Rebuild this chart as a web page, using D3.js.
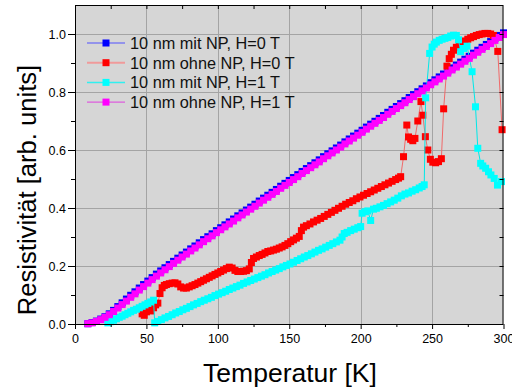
<!DOCTYPE html>
<html>
<head>
<meta charset="utf-8">
<script src="https://cdn.jsdelivr.net/npm/d3@7"></script>
<style>
	body { margin: 0; background: #fff; }
	text { font-family: "Liberation Sans", Arial, sans-serif; }
</style>
</head>
<body>
<script>
// temperature grid shared by the two linear curves
var tGrid = [9, 12, 15, 18, 21, 24, 27, 30, 33, 36, 39, 42, 45, 48, 51, 54, 57, 60, 63, 66,
	69, 72, 75, 78, 81, 84, 87, 90, 93, 96, 99, 102, 105, 108, 111, 114, 117, 120, 123, 126,
	129, 132, 135, 138, 141, 144, 147, 150, 153, 156, 159, 162, 165, 168, 171, 174, 177, 180, 183, 186,
	189, 192, 195, 198, 201, 204, 207, 210, 213, 216, 219, 222, 225, 228, 231, 234, 237, 240, 243, 246,
	249, 252, 255, 258, 261, 264, 267, 270, 273, 276, 279, 282, 285, 288, 291, 294, 297, 300];

var blueR = [0.001, 0.005, 0.010, 0.017, 0.025, 0.035, 0.047, 0.060, 0.073, 0.086, 0.099, 0.111, 0.124, 0.136, 0.148, 0.160, 0.172, 0.183, 0.194, 0.205,
	0.216, 0.227, 0.238, 0.248, 0.259, 0.269, 0.280, 0.291, 0.301, 0.311, 0.322, 0.332, 0.342, 0.352, 0.362, 0.373, 0.383, 0.393, 0.403, 0.413,
	0.424, 0.434, 0.444, 0.454, 0.464, 0.475, 0.485, 0.495, 0.505, 0.515, 0.526, 0.536, 0.546, 0.556, 0.566, 0.577, 0.587, 0.597, 0.607, 0.617,
	0.628, 0.638, 0.648, 0.658, 0.668, 0.679, 0.689, 0.699, 0.709, 0.719, 0.730, 0.740, 0.750, 0.760, 0.770, 0.781, 0.791, 0.801, 0.811, 0.821,
	0.832, 0.842, 0.852, 0.862, 0.872, 0.883, 0.893, 0.903, 0.913, 0.923, 0.934, 0.944, 0.954, 0.964, 0.974, 0.985, 0.995, 1.004];

var magentaR = [0.001, 0.004, 0.009, 0.015, 0.023, 0.032, 0.043, 0.055, 0.067, 0.079, 0.092, 0.104, 0.117, 0.129, 0.141, 0.153, 0.165, 0.176, 0.187, 0.198,
	0.209, 0.220, 0.231, 0.241, 0.252, 0.262, 0.273, 0.284, 0.294, 0.304, 0.315, 0.325, 0.335, 0.345, 0.355, 0.366, 0.376, 0.386, 0.396, 0.406,
	0.417, 0.427, 0.437, 0.447, 0.457, 0.468, 0.478, 0.488, 0.498, 0.508, 0.519, 0.529, 0.539, 0.549, 0.559, 0.570, 0.580, 0.590, 0.600, 0.610,
	0.621, 0.631, 0.641, 0.651, 0.661, 0.672, 0.682, 0.692, 0.702, 0.712, 0.723, 0.733, 0.743, 0.753, 0.763, 0.774, 0.784, 0.794, 0.804, 0.814,
	0.825, 0.835, 0.845, 0.855, 0.865, 0.876, 0.886, 0.896, 0.906, 0.916, 0.927, 0.937, 0.947, 0.957, 0.967, 0.978, 0.988, 0.998];

// 10 nm ohne NP, H=0 T
var redT = [47, 48.5, 50, 51.5, 53, 55, 56.5, 58, 59.5, 61, 62.5, 64, 66, 68, 70, 72, 74, 76, 78, 80,
	82, 84, 86, 88, 90, 92, 94, 96, 98, 100, 102, 104, 106, 108, 110, 112, 114, 116, 118, 120,
	122, 123.5, 125, 127, 129, 131, 133, 135, 137, 139, 141, 143, 145, 147, 149, 151, 153, 155, 157, 158.5,
	160, 162, 164.5, 167, 169.5, 172, 174.5, 177, 179.5, 182, 184.5, 187, 189.5, 192, 194.5, 197, 199.5, 202, 204.5, 207,
	209.5, 212, 214.5, 217, 219.5, 222, 224.5, 226.5, 228, 230, 232.3, 233.5, 235, 236.5, 238, 240, 242.2, 243.5, 245.3, 247,
	248.8, 250.5, 252.5, 254.5, 256.5, 258.1, 260.4, 262, 263.5, 265, 267, 269, 271, 273, 275, 277, 279, 281, 283, 285,
	287, 289, 291, 293, 296, 299];
var redR = [0.035, 0.030, 0.042, 0.050, 0.045, 0.056, 0.066, 0.072, 0.105, 0.125, 0.133, 0.136, 0.139, 0.141, 0.142, 0.138, 0.128, 0.124, 0.124, 0.128,
	0.132, 0.136, 0.141, 0.146, 0.151, 0.156, 0.161, 0.166, 0.171, 0.176, 0.181, 0.186, 0.191, 0.196, 0.193, 0.185, 0.181, 0.181, 0.182, 0.184,
	0.190, 0.212, 0.226, 0.231, 0.236, 0.240, 0.245, 0.250, 0.252, 0.255, 0.258, 0.262, 0.266, 0.271, 0.277, 0.284, 0.290, 0.296, 0.302, 0.322,
	0.334, 0.339, 0.345, 0.352, 0.358, 0.364, 0.371, 0.378, 0.385, 0.392, 0.399, 0.406, 0.413, 0.419, 0.425, 0.432, 0.438, 0.444, 0.450, 0.456,
	0.462, 0.468, 0.474, 0.480, 0.486, 0.492, 0.498, 0.503, 0.508, 0.577, 0.686, 0.645, 0.637, 0.632, 0.640, 0.700, 0.767, 0.720, 0.646, 0.600,
	0.568, 0.558, 0.556, 0.560, 0.570, 0.742, 0.889, 0.915, 0.930, 0.944, 0.954, 0.962, 0.969, 0.976, 0.982, 0.987, 0.991, 0.995, 0.998, 1.000,
	1.002, 1.002, 1.000, 0.995, 0.940, 0.670];

// 10 nm mit NP, H=1 T
var cyanT = [23, 25, 27, 29, 31, 33, 35, 37, 39, 41, 43, 45, 47, 49, 51, 53, 55, 55.8, 58, 60.5,
	63, 65.5, 68, 70.5, 73, 75.5, 78, 80.5, 83, 85.5, 88, 90.5, 93, 95.5, 98, 100.5, 103, 105.5, 108, 110.5,
	113, 115.5, 118, 120.5, 123, 125.5, 128, 130.5, 133, 135.5, 138, 140.5, 143, 145.5, 148, 150.5, 153, 155.5, 158, 160.5,
	163, 165.5, 168, 170.5, 173, 175.5, 178, 180.5, 183, 185.5, 187, 188.5, 190.5, 193, 195.5, 198, 200, 201, 203, 205,
	207, 209, 211, 213.5, 216, 218.5, 221, 223.5, 226, 228.5, 231, 233.5, 236, 238.5, 241, 243, 244.5, 245.5, 248.3, 250,
	251.5, 253, 255, 257, 259, 261, 263, 265, 267, 268.5, 270, 272, 274.5, 278, 280.4, 282, 284, 285.5, 287.5, 289.5,
	291.2, 293.5, 295.8, 298.6];
var cyanR = [0.004, 0.008, 0.013, 0.018, 0.023, 0.027, 0.032, 0.037, 0.042, 0.047, 0.051, 0.056, 0.061, 0.066, 0.071, 0.076, 0.082, 0.004, 0.009, 0.015,
	0.021, 0.026, 0.032, 0.038, 0.043, 0.049, 0.054, 0.060, 0.066, 0.071, 0.077, 0.082, 0.087, 0.092, 0.098, 0.103, 0.108, 0.113, 0.119, 0.124,
	0.129, 0.134, 0.140, 0.145, 0.150, 0.155, 0.160, 0.165, 0.170, 0.176, 0.181, 0.186, 0.191, 0.197, 0.202, 0.207, 0.213, 0.219, 0.225, 0.231,
	0.236, 0.242, 0.248, 0.254, 0.259, 0.265, 0.271, 0.277, 0.283, 0.289, 0.300, 0.312, 0.316, 0.322, 0.327, 0.332, 0.336, 0.382, 0.387, 0.390,
	0.357, 0.396, 0.399, 0.404, 0.409, 0.415, 0.421, 0.427, 0.434, 0.442, 0.448, 0.452, 0.458, 0.463, 0.469, 0.474, 0.480, 0.780, 0.933, 0.955,
	0.965, 0.972, 0.978, 0.982, 0.985, 0.988, 0.993, 0.996, 0.995, 0.980, 0.939, 0.950, 0.958, 0.870, 0.749, 0.606, 0.554, 0.545, 0.537, 0.525,
	0.514, 0.502, 0.479, 0.491];

var legendLabels = ["10 nm mit NP, H=0 T", "10 nm ohne NP, H=0 T", "10 nm mit NP, H=1 T", "10 nm ohne NP, H=1 T"];
var xTicks = [0, 50, 100, 150, 200, 250, 300];
var yTicks = [0, 0.2, 0.4, 0.6, 0.8, 1.0];

var width = 512, height = 387;
var plotLeft = 75, plotRight = 503.5, plotTop = 5, plotBottom = 324;

var svg = d3.select("body").append("svg")
	.attr("width", width)
	.attr("height", height);

var xScale = d3.scaleLinear().domain([0, 300]).range([plotLeft, plotRight]);
var yScale = d3.scaleLinear().domain([0, 1.1]).range([plotBottom, plotTop]);

function zip(ts, rs) {
	return ts.map(function(t, i) { return { t: t, r: rs[i] }; });
}

var series = [
	{ name: legendLabels[0], data: zip(tGrid, blueR), color: "#0000ff", line: "#3030ff", legendLine: "#5050ff", lw: 1 },
	{ name: legendLabels[1], data: zip(redT, redR), color: "#ff0000", line: "#f06a6a", legendLine: "#f09a9a", lw: 2 },
	{ name: legendLabels[2], data: zip(cyanT, cyanR), color: "#00ffff", line: "#00e8e8", legendLine: "#30f0f0", lw: 1.5 },
	{ name: legendLabels[3], data: zip(tGrid, magentaR), color: "#ff00ff", line: "#f020f0", legendLine: "#e040e0", lw: 1 }
];

// plot background
svg.append("rect")
	.attr("x", plotLeft).attr("y", plotTop)
	.attr("width", plotRight - plotLeft).attr("height", plotBottom - plotTop)
	.attr("fill", "#d6d6d6");

// grid
var grid = svg.append("g").attr("stroke", "#a4a4a4").attr("stroke-width", 1);
grid.selectAll(".gx")
	.data(xTicks.slice(1, -1))
	.enter().append("line")
		.attr("x1", function(d) { return Math.round(xScale(d)) + 0.5; })
		.attr("x2", function(d) { return Math.round(xScale(d)) + 0.5; })
		.attr("y1", plotTop).attr("y2", plotBottom);
grid.selectAll(".gy")
	.data(yTicks.slice(1))
	.enter().append("line")
		.attr("y1", function(d) { return Math.round(yScale(d)) + 0.5; })
		.attr("y2", function(d) { return Math.round(yScale(d)) + 0.5; })
		.attr("x1", plotLeft).attr("x2", plotRight);

// series
var lineGen = d3.line()
	.x(function(d) { return xScale(d.t); })
	.y(function(d) { return yScale(d.r); });

var plot = svg.append("g");
var ms = 7;
series.forEach(function(s) {
	var g = plot.append("g");
	g.append("path")
		.datum(s.data)
		.attr("d", lineGen)
		.attr("fill", "none")
		.attr("stroke", s.line)
		.attr("stroke-width", 1);
	g.selectAll("rect")
		.data(s.data)
		.enter().append("rect")
			.attr("x", function(d) { return xScale(d.t) - ms / 2; })
			.attr("y", function(d) { return yScale(d.r) - ms / 2; })
			.attr("width", ms)
			.attr("height", ms)
			.attr("fill", s.color);
});

// axes
function styleAxis(g) {
	g.select(".domain").remove();
	g.selectAll("line").attr("stroke", "#000");
	g.selectAll("text").attr("fill", "#000").style("font-size", "12.5px")
		.style("font-family", "'Liberation Sans', Arial, sans-serif");
}

svg.append("g")
	.attr("transform", "translate(0," + plotBottom + ")")
	.call(d3.axisBottom(xScale).tickValues(xTicks).tickSize(5).tickPadding(5).tickFormat(d3.format("d")))
	.call(styleAxis);
svg.append("g")
	.attr("transform", "translate(0," + plotBottom + ")")
	.call(d3.axisBottom(xScale).tickValues([25, 75, 125, 175, 225, 275]).tickSize(3).tickFormat(""))
	.call(styleAxis);
svg.append("g")
	.attr("transform", "translate(" + plotLeft + ",0)")
	.call(d3.axisLeft(yScale).tickValues(yTicks).tickSize(7).tickPadding(2).tickFormat(d3.format(".1f")))
	.call(styleAxis);
svg.append("g")
	.attr("transform", "translate(" + plotLeft + ",0)")
	.call(d3.axisLeft(yScale).tickValues([0.1, 0.3, 0.5, 0.7, 0.9]).tickSize(4).tickFormat(""))
	.call(styleAxis);
svg.append("g")
	.attr("transform", "translate(0," + plotTop + ")")
	.call(d3.axisTop(xScale).tickValues([25, 50, 75, 100, 125, 150, 175, 200, 225, 250, 275]).tickSize(-4).tickFormat(""))
	.call(styleAxis);
svg.append("g")
	.attr("transform", "translate(" + plotRight + ",0)")
	.call(d3.axisRight(yScale).tickValues([0.1, 0.2, 0.3, 0.4, 0.5, 0.6, 0.7, 0.8, 0.9, 1.0]).tickSize(-4).tickFormat(""))
	.call(styleAxis);

// frame
svg.append("rect")
	.attr("x", plotLeft + 0.5).attr("y", plotTop + 0.5)
	.attr("width", plotRight - plotLeft - 1).attr("height", plotBottom - plotTop)
	.attr("fill", "none")
	.attr("stroke", "#000")
	.attr("stroke-width", 1);

// legend
var legend = svg.append("g");
series.forEach(function(s, i) {
	var cy = 43 + i * 19.7;
	legend.append("line")
		.attr("x1", 87).attr("x2", 125)
		.attr("y1", cy).attr("y2", cy)
		.attr("stroke", s.legendLine)
		.attr("stroke-width", s.lw);
	legend.append("rect")
		.attr("x", 106 - 3.5).attr("y", cy - 3.5)
		.attr("width", 7).attr("height", 7)
		.attr("fill", s.color);
	legend.append("text")
		.attr("x", 130).attr("y", cy + 5.8)
		.style("font-size", "16.3px")
		.attr("fill", "#111")
		.text(s.name);
});

// axis titles
svg.append("text")
	.attr("x", 290).attr("y", 382)
	.attr("text-anchor", "middle")
	.style("font-size", "26.5px")
	.text("Temperatur [K]");

svg.append("text")
	.attr("transform", "translate(36,190) rotate(-90)")
	.attr("text-anchor", "middle")
	.style("font-size", "25.6px")
	.text("Resistivität [arb. units]");
</script>
</body>
</html>
